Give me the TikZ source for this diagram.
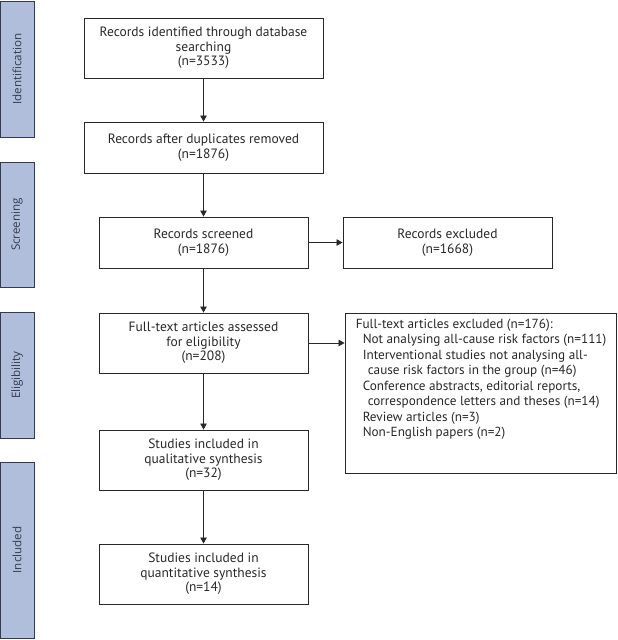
\documentclass[tikz,border=0pt]{standalone}
\usepackage{fontspec}
\setmainfont{PT Sans}
\newfontfamily\phasefont{Open Sans}
\usetikzlibrary{positioning,arrows.meta}

\definecolor{phasefill}{RGB}{176,190,220}
\definecolor{phaseedge}{RGB}{50,60,78}
\definecolor{inkgray}{RGB}{40,40,40}

\tikzset{
  box/.style={draw=inkgray, line width=0.9pt, align=center, inner sep=0pt, text=inkgray},
  phase/.style={draw=phaseedge, fill=phasefill, line width=0.9pt, rotate=90, inner sep=0pt,
    minimum height=34pt, text=phaseedge, font=\phasefont\fontsize{11.6}{13}\selectfont},
  flow/.style={-{Triangle[length=6pt,width=6.5pt]}, line width=0.8pt, draw=inkgray}
}

\begin{document}
\begin{tikzpicture}[x=1pt,y=-1pt, font=\fontsize{13.5}{14.5}\selectfont]
  \useasboundingbox (0,0) rectangle (618,640);

  \node[phase, minimum width=136pt] (pident) at (17,69) {Identification};
  \node[phase, minimum width=125pt] (pscreen) at (17,224.5) {Screening};
  \node[phase, minimum width=126pt] (pelig) at (17,375) {Eligibility};
  \node[phase, minimum width=176pt] (pincl) at (17,550) {Included};

  \node[box, minimum width=239pt, minimum height=60pt] (ident) at (203.5,48)
    {Records identified through database\\searching\\(n=3533)};
  \node[box, minimum width=239pt, minimum height=51pt] (dedup) at (203.5,147.5)
    {Records after duplicates removed\\(n=1876)};
  \node[box, minimum width=209pt, minimum height=51pt] (screen) at (203.5,242.5)
    {Records screened\\(n=1876)};
  \node[box, minimum width=209pt, minimum height=51pt] (excl) at (447.5,242.5)
    {Records excluded\\(n=1668)};
  \node[box, minimum width=209pt, minimum height=60pt] (full) at (203.5,343)
    {Full-text articles assessed\\for eligibility\\(n=208)};
  \node[box, minimum width=271pt, minimum height=160pt] (fullexcl) at (480.5,393) {};
  \node[anchor=north west, align=left, inner sep=0pt, text=inkgray,
    font=\fontsize{13.2}{15.5}\selectfont] (fullexcltext) at ([shift={(11,6)}]fullexcl.north west)
    {Full-text articles excluded (n=176):\\
     \hspace*{7pt}Not analysing all-cause risk factors (n=111)\\
     \hspace*{7pt}Interventional studies not analysing all-\\
     \hspace*{12pt}cause risk factors in the group (n=46)\\
     \hspace*{7pt}Conference abstracts, editorial reports,\\
     \hspace*{12pt}correspondence letters and theses (n=14)\\
     \hspace*{7pt}Review articles (n=3)\\
     \hspace*{7pt}Non-English papers (n=2)};
  \node[box, minimum width=209pt, minimum height=60pt] (qual) at (203.5,460)
    {Studies included in\\qualitative synthesis\\(n=32)};
  \node[box, minimum width=209pt, minimum height=60pt] (quant) at (203.5,574)
    {Studies included in\\quantitative synthesis\\(n=14)};

  \draw[flow] (ident) -- (dedup);
  \draw[flow] (dedup) -- (screen);
  \draw[flow] (screen) -- (full);
  \draw[flow] (full) -- (qual);
  \draw[flow] (qual) -- (quant);
  \draw[flow] (screen) -- (excl);
  \draw[flow] (full.east) -- (full.east -| fullexcl.west);
\end{tikzpicture}
\end{document}
